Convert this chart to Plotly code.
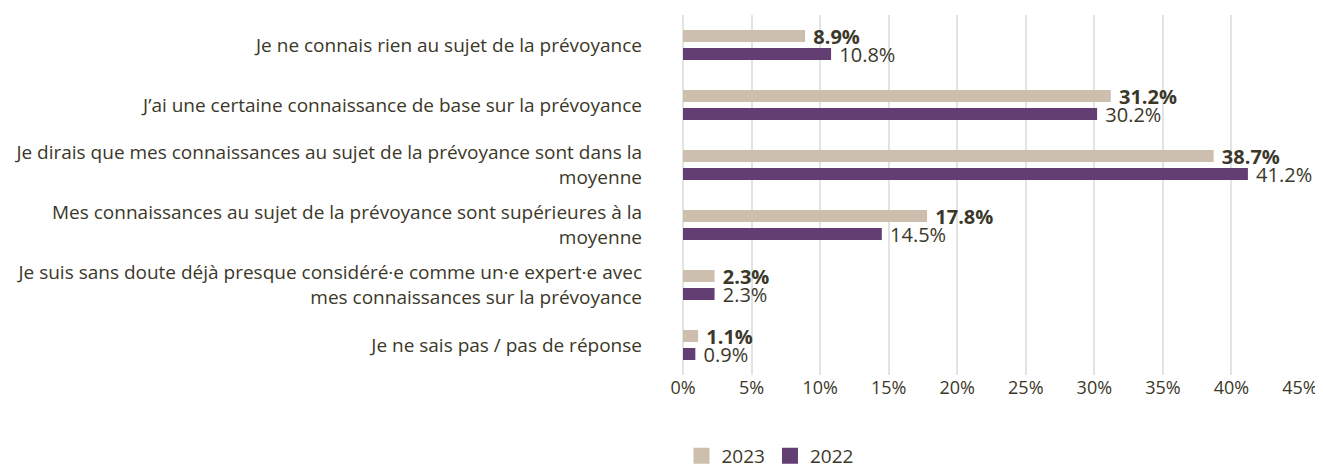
import plotly.graph_objects as go

categories = [
    "Je ne connais rien au sujet de la prévoyance",
    "J’ai une certaine connaissance de base sur la prévoyance",
    "Je dirais que mes connaissances au sujet de la prévoyance sont dans la<br>moyenne",
    "Mes connaissances au sujet de la prévoyance sont supérieures à la<br>moyenne",
    "Je suis sans doute déjà presque considéré·e comme un·e expert·e avec<br>mes connaissances sur la prévoyance",
    "Je ne sais pas / pas de réponse",
]
values_2023 = [8.9, 31.2, 38.7, 17.8, 2.3, 1.1]
values_2022 = [10.8, 30.2, 41.2, 14.5, 2.3, 0.9]
tick_vals = [0, 5, 10, 15, 20, 25, 30, 35, 40, 45]
tick_text = ["0%", "5%", "10%", "15%", "20%", "25%", "30%", "35%", "40%", "45%"]

TXT = "#3b3829"
FONT = "Open Sans"
C23 = "#CDBFAE"
C22 = "#633E73"

fig = go.Figure()
fig.add_trace(go.Bar(
    name="2023", y=categories, x=values_2023, orientation="h",
    width=0.2, offset=-0.25, showlegend=False,
    marker=dict(color=C23, line=dict(width=0)),
    text=[f" <b>{v:.1f}%</b>" for v in values_2023], textposition="outside",
    constraintext="none",
    textfont=dict(family=FONT, size=20, color=TXT), cliponaxis=False,
))
fig.add_trace(go.Bar(
    name="2022", y=categories, x=values_2022, orientation="h",
    width=0.2, offset=0.05, showlegend=False,
    marker=dict(color=C22, line=dict(width=0)),
    text=[f" {v:.1f}%" for v in values_2022], textposition="outside",
    constraintext="none",
    textfont=dict(family=FONT, size=20, color=TXT), cliponaxis=False,
))
# legend entries with larger square symbols
for name, col in [("2023", C23), ("2022", C22)]:
    fig.add_trace(go.Scatter(
        x=[None], y=[None], mode="markers", name=name,
        marker=dict(symbol="square", size=20, color=col), showlegend=True,
    ))

W, H = 1315, 457  # page body has an 8px margin on each side
fig.update_layout(
    width=W, height=H,
    margin=dict(l=675, r=23, t=7, b=90, autoexpand=False),
    barmode="group",
    plot_bgcolor="white", paper_bgcolor="white",
    font=dict(family=FONT, size=16, color=TXT),
    legend=dict(orientation="h", x=0.141, xanchor="center", y=-0.225, yanchor="middle",
                font=dict(size=19, color=TXT), traceorder="normal",
                itemwidth=30, tracegroupgap=0),
    showlegend=True,
)
fig.update_xaxes(range=[0, 45], tickvals=tick_vals, ticktext=tick_text,
                 showgrid=True, gridcolor="#e3e3e3", gridwidth=1.5,
                 zeroline=True, zerolinecolor="#e3e3e3", zerolinewidth=1.5,
                 showline=False, ticks="", automargin=False,
                 ticklabeloverflow="allow",
                 tickfont=dict(size=18, color=TXT))
fig.update_yaxes(autorange="reversed", showgrid=False, showline=False, ticks="",
                 automargin=False, ticklabelstandoff=40,
                 tickfont=dict(size=19, color=TXT))

fig.write_html("out.html")
